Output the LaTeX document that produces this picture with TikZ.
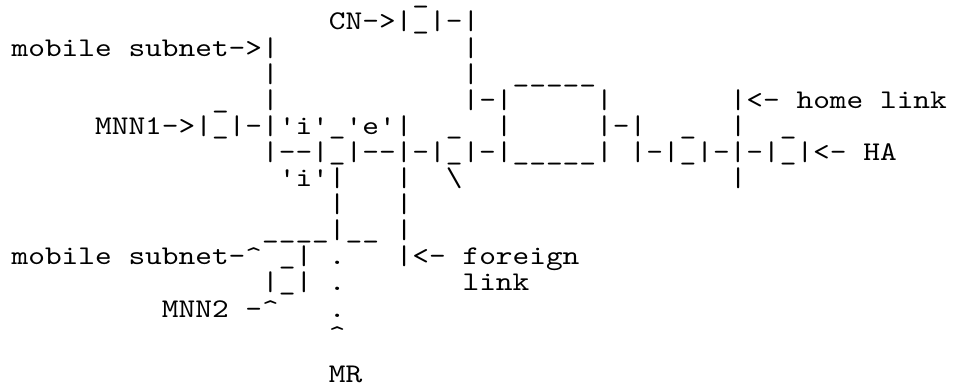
\documentclass[tikz,border=0pt]{standalone}
\usepackage{fontspec}
\newfontfamily\asc{lmmono10-regular.otf}[Ligatures=TeXOff, FakeStretch=1.178]
\tikzset{
  txt/.style={anchor=base west, inner sep=0pt, outer sep=0pt, text=black,
              font=\asc\fontsize{27pt}{27pt}\selectfont}
}
\newcommand\seg[5][]{\node[txt,#1] (#2) at ({(11.65+16.7*#3)*1pt},{-(3.9+26.1*#4)*1pt}) {#5};}
\begin{document}
\begin{tikzpicture}
\fill[white] (0pt,0pt) rectangle (954pt,-387pt);
\useasboundingbox (0pt,0pt) rectangle (954pt,-387pt);
\seg[text height=0pt,text depth=6pt]{r0a}{24}{0}{\_}
\seg{r1a}{19}{1}{CN->|\_|-|}
\seg{r2a}{0}{2}{mobile}
\seg{r2b}{7}{2}{subnet->|}
\seg{r2c}{27}{2}{|}
\seg{r3a}{15}{3}{|}
\seg{r3b}{27}{3}{|}
\seg{r3c}{30}{3}{\_\_\_\_\_}
\seg{r4a}{12}{4}{\_}
\seg{r4b}{15}{4}{|}
\seg{r4c}{27}{4}{|-|}
\seg{r4d}{35}{4}{|}
\seg{r4e}{43}{4}{|<-}
\seg{r4f}{47}{4}{home}
\seg{r4g}{52}{4}{link}
\seg{r5a}{5}{5}{MNN1->|\_|-|'i'\_'e'|}
\seg{r5b}{26}{5}{\_}
\seg{r5c}{29}{5}{|}
\seg{r5d}{35}{5}{|-|}
\seg{r5e}{40}{5}{\_}
\seg{r5f}{43}{5}{|}
\seg{r5g}{46}{5}{\_}
\seg{r6a}{15}{6}{|--|\_|--|-|\_|-|\_\_\_\_\_|}
\seg{r6b}{37}{6}{|-|\_|-|-|\_|<-}
\seg{r6c}{51}{6}{HA}
\seg{r7a}{16}{7}{'i'|}
\seg{r7b}{23}{7}{|}
\seg{r7c}{26}{7}{\textbackslash}
\seg{r7d}{43}{7}{|}
\seg{r8a}{19}{8}{|}
\seg{r8b}{23}{8}{|}
\seg{r9a}{15}{9}{\_\_\_\_|\_\_}
\seg{r9b}{23}{9}{|}
\seg{r10a}{0}{10}{mobile}
\seg{r10b}{7}{10}{subnet-\textasciicircum}
\seg{r10c}{16}{10}{\_|}
\seg{r10d}{19}{10}{.}
\seg{r10e}{23}{10}{|<-}
\seg{r10f}{27}{10}{foreign}
\seg{r11a}{15}{11}{|\_|}
\seg{r11b}{19}{11}{.}
\seg{r11c}{27}{11}{link}
\seg{r12a}{9}{12}{MNN2}
\seg{r12b}{14}{12}{-\textasciicircum}
\seg{r12c}{19}{12}{.}
\seg{r13a}{19}{13}{\textasciicircum}
\node[txt,text depth=0pt] (r15a) at ({(11.65+16.7*19)*1pt},-383pt) {MR};
\end{tikzpicture}
\end{document}
